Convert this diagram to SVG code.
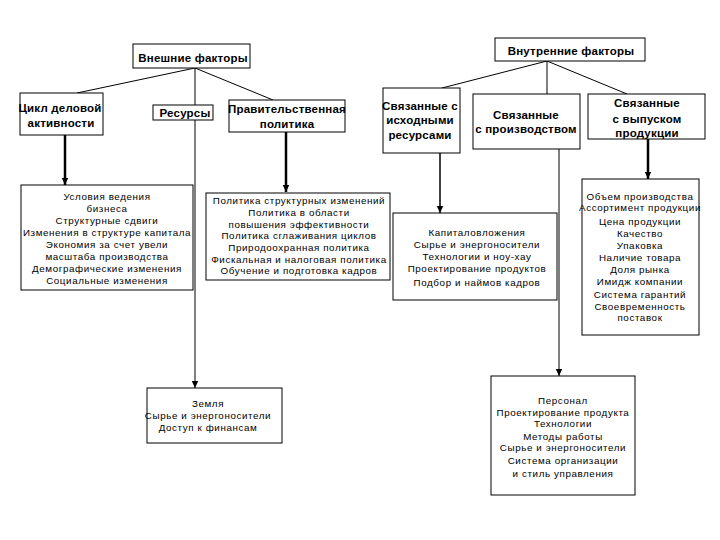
<svg xmlns="http://www.w3.org/2000/svg" width="720" height="540" viewBox="0 0 720 540">
<style>
rect{fill:#fff;stroke:#000;stroke-width:1}
text{font-family:"Liberation Sans",Arial,sans-serif;fill:#000;text-anchor:middle}
.h{font-size:11.5px;font-weight:bold;letter-spacing:0.2px}
.l{font-size:9.8px;letter-spacing:0.6px}
.c{fill:none;stroke:#000;stroke-width:1}
.t{stroke-width:2.5}
.m{stroke-width:1.5}
</style>
<defs>
<marker id="a" markerUnits="userSpaceOnUse" markerWidth="8" markerHeight="8" refX="7" refY="4" orient="auto">
<path d="M0,0.8 L7,4 L0,7.2 Z" fill="#000"/>
</marker>
</defs>
<rect x="0" y="0" width="720" height="540" style="stroke:none"/>
<g id="connectors">
<path class="c" d="M195,68 L77,93"/>
<path class="c" d="M195,68 L273,100"/>
<path class="c" d="M195,68 L195,105"/>
<path class="c" d="M195,120 L195,388" marker-end="url(#a)"/>
<path class="c t" d="M65,135 L65,185" marker-end="url(#a)"/>
<path class="c t" d="M286,132 L286,192" marker-end="url(#a)"/>
<path class="c" d="M547,61 L442,88"/>
<path class="c" d="M547,61 L547,94"/>
<path class="c" d="M547,61 L627,94"/>
<path class="c m" d="M440,153 L440,213" marker-end="url(#a)"/>
<path class="c" d="M559,149 L559,376" marker-end="url(#a)"/>
<path class="c t" d="M648,139 L648,179" marker-end="url(#a)"/>
</g>
<g id="ext"><rect x="133" y="44" width="117" height="24"/><text class="h" x="193" y="62">Внешние факторы</text></g>
<g id="int"><rect x="495" y="38" width="150" height="23"/><text class="h" x="571" y="55">Внутренние факторы</text></g>
<g id="cycle"><rect x="20" y="93" width="83" height="42"/><text class="h" x="60" y="112">Цикл деловой</text><text class="h" x="61" y="127">активности</text></g>
<g id="res"><rect x="153" y="105" width="60" height="15"/><text class="h" x="185" y="117">Ресурсы</text></g>
<g id="gov"><rect x="229" y="100" width="116" height="32"/><text class="h" x="287" y="113">Правительственная</text><text class="h" x="287" y="128">политика</text></g>
<g id="src"><rect x="383" y="88" width="77" height="65"/><text class="h" x="420" y="110">Связанные с</text><text class="h" x="420" y="124">исходными</text><text class="h" x="420" y="139">ресурсами</text></g>
<g id="prod"><rect x="473" y="94" width="107" height="55"/><text class="h" x="526" y="119">Связанные</text><text class="h" x="526" y="133">с производством</text></g>
<g id="out"><rect x="588" y="94" width="117" height="45"/><text class="h" x="647" y="107">Связанные</text><text class="h" x="647" y="123">с выпуском</text><text class="h" x="647" y="137">продукции</text></g>
<g id="cond"><rect x="21" y="185" width="172" height="105"/>
<text class="l" x="107" y="200">Условия ведения</text>
<text class="l" x="107" y="212">бизнеса</text>
<text class="l" x="107" y="224">Структурные сдвиги</text>
<text class="l" x="107" y="236">Изменения в структуре капитала</text>
<text class="l" x="107" y="248">Экономия за счет увели</text>
<text class="l" x="107" y="260">масштаба производства</text>
<text class="l" x="107" y="272">Демографические изменения</text>
<text class="l" x="107" y="284">Социальные изменения</text></g>
<g id="pol"><rect x="206" y="193" width="184" height="87"/>
<text class="l" x="299" y="204">Политика структурных изменений</text>
<text class="l" x="299" y="216">Политика в области</text>
<text class="l" x="299" y="228">повышения эффективности</text>
<text class="l" x="299" y="239">Политика сглаживания циклов</text>
<text class="l" x="299" y="251">Природоохранная политика</text>
<text class="l" x="299" y="263">Фискальная и налоговая политика</text>
<text class="l" x="299" y="274">Обучение и подготовка кадров</text></g>
<g id="cap"><rect x="393" y="213" width="164" height="87"/>
<text class="l" x="477" y="236">Капиталовложения</text>
<text class="l" x="477" y="247.5">Сырье и энергоносители</text>
<text class="l" x="477" y="259.5">Технологии и ноу-хау</text>
<text class="l" x="477" y="271.5">Проектирование продуктов</text>
<text class="l" x="477" y="285.5">Подбор и наймов кадров</text></g>
<g id="outlist"><rect x="582" y="179" width="117" height="156"/>
<text class="l" x="640" y="200">Объем производства</text>
<text class="l" x="640" y="211">Ассортимент продукции</text>
<text class="l" x="640" y="225">Цена продукции</text>
<text class="l" x="640" y="237">Качество</text>
<text class="l" x="640" y="249">Упаковка</text>
<text class="l" x="640" y="261">Наличие товара</text>
<text class="l" x="640" y="273">Доля рынка</text>
<text class="l" x="640" y="285">Имидж компании</text>
<text class="l" x="640" y="297.5">Система гарантий</text>
<text class="l" x="640" y="310">Своевременность</text>
<text class="l" x="640" y="321">поставок</text></g>
<g id="land"><rect x="147" y="388" width="135" height="55"/>
<text class="l" x="208" y="406.5">Земля</text>
<text class="l" x="208" y="418.5">Сырье и энергоносители</text>
<text class="l" x="208" y="430.5">Доступ к финансам</text></g>
<g id="pers"><rect x="491" y="376" width="144" height="119"/>
<text class="l" x="563" y="403.5">Персонал</text>
<text class="l" x="563" y="416">Проектирование продукта</text>
<text class="l" x="563" y="427">Технологии</text>
<text class="l" x="563" y="439.5">Методы работы</text>
<text class="l" x="563" y="451">Сырье и энергоносители</text>
<text class="l" x="563" y="463.5">Система организации</text>
<text class="l" x="563" y="477">и стиль управления</text></g>
</svg>
